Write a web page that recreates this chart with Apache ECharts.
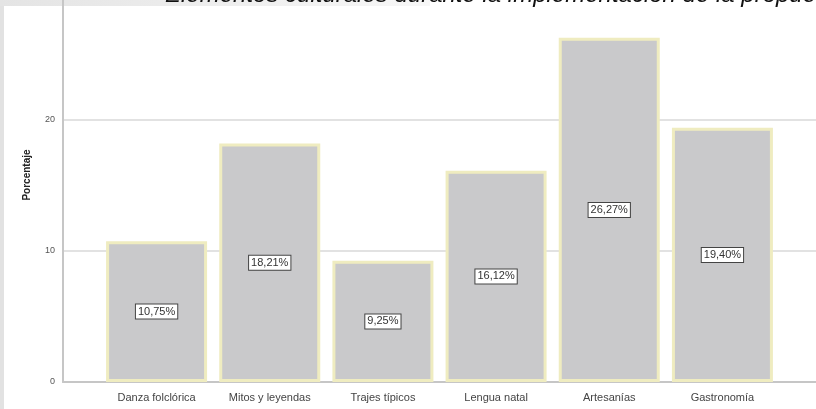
<!DOCTYPE html>
<html>
<head>
<meta charset="utf-8">
<script src="https://cdn.jsdelivr.net/npm/echarts@6/dist/echarts.min.js"></script>
<style>
html,body{margin:0;padding:0;background:#fff;}
#chart{width:816px;height:409px;}
</style>
</head>
<body>
<div id="chart"></div>
<script>
const categories = ['Danza folclórica', 'Mitos y leyendas', 'Trajes típicos', 'Lengua natal', 'Artesanías', 'Gastronomía'];
const values = [10.75, 18.21, 9.25, 16.12, 26.27, 19.40];
const yTicks = [0, 10, 20, 30];
const titleText = 'Elementos culturales durante la implementación de la propuesta';

const chart = echarts.init(document.getElementById('chart'));
const font = 'Liberation Sans, Arial, sans-serif';
const option = {
  animation: false,
  backgroundColor: '#ffffff',
  graphic: [
    { type: 'rect', left: 0, top: 0, shape: { width: 4, height: 409 }, style: { fill: '#e2e2e2' }, z: 0 },
    { type: 'rect', left: 0, top: 0, shape: { width: 430, height: 6 },
      style: { fill: new echarts.graphic.LinearGradient(0, 0, 1, 0, [{offset: 0, color: '#e4e4e4'}, {offset: 1, color: '#f7f7f7'}]) }, z: 0 },
    { type: 'text', x: 165, y: 7, z: 10,
      style: { text: titleText, font: 'italic 24px ' + font, fill: '#111', textVerticalAlign: 'bottom', textAlign: 'left' } },
    { type: 'text', x: 27, y: 175, rotation: Math.PI / 2, z: 10,
      style: { text: 'Porcentaje', font: 'bold 10px ' + font, fill: '#222', textAlign: 'center', textVerticalAlign: 'middle' } }
  ],
  grid: [
    { left: 63, right: 0, top: -11, bottom: 27, outerBoundsMode: 'none', containLabel: false },
    { left: 100, right: 37, top: -11, bottom: 27, outerBoundsMode: 'none', containLabel: false }
  ],
  xAxis: [
    { gridIndex: 0, type: 'category', data: [''], axisLine: { show: true, lineStyle: { color: '#c6c6c6', width: 2 } },
      axisTick: { show: false }, axisLabel: { show: false } },
    { gridIndex: 1, type: 'category', data: categories, axisLine: { show: false }, axisTick: { show: false },
      axisLabel: { color: '#444', fontSize: 11, fontFamily: font, margin: 10 } }
  ],
  yAxis: [
    { gridIndex: 0, type: 'value', min: yTicks[0], max: yTicks[yTicks.length - 1], interval: 10,
      axisLine: { show: true, lineStyle: { color: '#c6c6c6', width: 2 } },
      axisTick: { show: false },
      axisLabel: { color: '#555', fontSize: 9, fontFamily: font, margin: 8 },
      splitLine: { show: true, lineStyle: { color: '#e2e2e2', width: 2 } } },
    { gridIndex: 1, type: 'value', min: yTicks[0], max: yTicks[yTicks.length - 1], interval: 10, show: false, splitLine: { show: false } }
  ],
  series: [{
    type: 'bar', xAxisIndex: 1, yAxisIndex: 1, data: values, barWidth: 101,
    itemStyle: { color: '#c9c9cb', borderColor: '#efecc0', borderWidth: 3 },
    label: { show: true, position: 'inside', formatter: p => p.value.toFixed(2).replace('.', ',') + '%',
      color: '#333', fontSize: 11, fontFamily: font, backgroundColor: '#fff', borderColor: '#444', borderWidth: 1,
      padding: [2, 2, 1, 2] }
  }]
};
chart.setOption(option);
</script>
</body>
</html>
